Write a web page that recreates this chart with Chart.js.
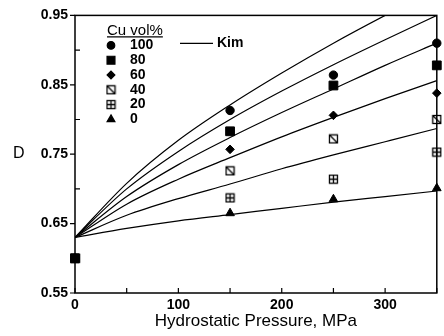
<!DOCTYPE html>
<html>
<head>
<meta charset="utf-8">
<script src="https://cdn.jsdelivr.net/npm/chart.js@4"></script>
<style>
html, body { margin: 0; padding: 0; background: #fff; }
#wrap { width: 444px; height: 336px; }
</style>
</head>
<body>
<div id="wrap"><canvas id="chart"></canvas></div>
<script>
// measured relative density D vs hydrostatic pressure
const pressures = [0, 150, 250, 350];
const cu100 = [0.600, 0.813, 0.864, 0.910];
const cu80  = [0.600, 0.783, 0.849, 0.878];
const cu60  = [0.600, 0.757, 0.806, 0.838];
const cu40  = [0.600, 0.726, 0.772, 0.800];
const cu20  = [0.600, 0.687, 0.714, 0.753];
const cu0   = [0.600, 0.665, 0.685, 0.701];

// Kim model curves
const kimPressures = [0, 50, 100, 150, 200, 250, 300, 350];
const kim1 = [0.630, 0.708, 0.770, 0.821, 0.867, 0.910, 0.950, 0.988];
const kim2 = [0.630, 0.700, 0.754, 0.800, 0.841, 0.879, 0.915, 0.950];
const kim3 = [0.630, 0.689, 0.735, 0.774, 0.810, 0.844, 0.878, 0.910];
const kim4 = [0.630, 0.678, 0.714, 0.745, 0.775, 0.803, 0.830, 0.856];
const kim5 = [0.630, 0.662, 0.686, 0.707, 0.729, 0.749, 0.768, 0.787];
const kim6 = [0.630, 0.643, 0.654, 0.663, 0.672, 0.681, 0.689, 0.697];

const legendLabels = ['100', '80', '60', '40', '20', '0'];
const xTickLabels = ['0', '100', '200', '300'];
const yTickLabels = ['0.55', '0.65', '0.75', '0.85', '0.95'];

const FONT = '"Liberation Sans", Arial, sans-serif';

// small open-square markers (slash / cross)
function makeMarker(kind) {
    const c = document.createElement('canvas');
    c.width = 11;
    c.height = 11;
    const g = c.getContext('2d');
    g.strokeStyle = '#000';
    g.lineWidth = 1.3;
    g.strokeRect(1.5, 1.5, 8, 8);
    g.beginPath();
    if (kind === 'slash') {
        g.moveTo(1.5, 1.5);
        g.lineTo(9.5, 9.5);
    } else {
        g.moveTo(5.5, 1.5);
        g.lineTo(5.5, 9.5);
        g.moveTo(1.5, 5.5);
        g.lineTo(9.5, 5.5);
    }
    g.stroke();
    return c;
}

function toPoints(xs, ys) {
    return xs.map((x, i) => ({ x: x, y: ys[i] }));
}

const markerStyles = [
    { style: 'circle', radius: 4.2 },
    { style: 'rect', radius: 6.2 },
    { style: 'rectRot', radius: 4.3 },
    { style: makeMarker('slash'), radius: 5 },
    { style: makeMarker('cross'), radius: 5 },
    { style: 'triangle', radius: 5 }
];
const measured = [cu100, cu80, cu60, cu40, cu20, cu0];
const kimCurves = [kim1, kim2, kim3, kim4, kim5, kim6];

const datasets = [];
kimCurves.forEach(k => {
    datasets.push({
        label: 'Kim',
        data: toPoints(kimPressures, k),
        showLine: true,
        borderColor: '#000',
        borderWidth: 1.2,
        pointRadius: 0,
        cubicInterpolationMode: 'monotone',
        clip: 0
    });
});
measured.forEach((m, i) => {
    datasets.push({
        label: legendLabels[i],
        data: toPoints(pressures, m),
        showLine: false,
        pointStyle: markerStyles[i].style,
        pointRadius: markerStyles[i].radius,
        backgroundColor: '#000',
        borderColor: '#000',
        borderWidth: 1,
        clip: false
    });
});

// frame, inward/outward ticks and the "D" label
const axisDecor = {
    id: 'axisDecor',
    beforeDatasetsDraw(chart) {
        const { ctx, chartArea: a, scales: { x, y } } = chart;
        ctx.save();
        ctx.strokeStyle = '#000';
        ctx.lineWidth = 1.5;
        ctx.strokeRect(a.left, a.top, a.right - a.left, a.bottom - a.top);
        ctx.lineWidth = 1.2;
        ctx.beginPath();
        x.ticks.forEach(t => {
            const px = x.getPixelForValue(t.value);
            ctx.moveTo(px, a.bottom);
            ctx.lineTo(px, a.bottom - 5);
        });
        y.ticks.forEach(t => {
            const py = y.getPixelForValue(t.value);
            if (yTickLabels.includes(t.value.toFixed(2))) {
                ctx.moveTo(a.left - 5, py);
                ctx.lineTo(a.left, py);
            } else {
                ctx.moveTo(a.left, py);
                ctx.lineTo(a.left + 5, py);
            }
        });
        ctx.stroke();
        ctx.fillStyle = '#000';
        ctx.font = '16px ' + FONT;
        ctx.textAlign = 'left';
        ctx.textBaseline = 'middle';
        ctx.fillText('D', 13, 154);
        ctx.restore();
    }
};

// legend block inside the plot
const legendBox = {
    id: 'legendBox',
    afterDraw(chart) {
        const { ctx, chartArea: a } = chart;
        ctx.save();
        ctx.fillStyle = '#000';
        ctx.strokeStyle = '#000';
        ctx.textBaseline = 'middle';
        ctx.textAlign = 'left';

        ctx.font = '15px ' + FONT;
        const title = 'Cu vol%';
        const tx = a.left + 32, ty = a.top + 15;
        ctx.fillText(title, tx, ty);
        ctx.lineWidth = 1.2;
        ctx.beginPath();
        ctx.moveTo(tx, ty + 6.5);
        ctx.lineTo(tx + ctx.measureText(title).width, ty + 6.5);
        ctx.stroke();

        ctx.font = 'bold 14px ' + FONT;
        legendLabels.forEach((lab, i) => {
            const ry = a.top + 30 + i * 14.8;
            const ms = markerStyles[i];
            if (Chart.helpers && Chart.helpers.drawPoint) {
                Chart.helpers.drawPoint(ctx, {
                    pointStyle: ms.style, radius: ms.radius * 0.9, rotation: 0, borderWidth: 1
                }, a.left + 36, ry);
            }
            ctx.fillText(lab, a.left + 55, ry);
        });

        ctx.lineWidth = 1.2;
        ctx.beginPath();
        ctx.moveTo(a.left + 105, a.top + 28);
        ctx.lineTo(a.left + 138, a.top + 28);
        ctx.stroke();
        ctx.font = 'bold 14px ' + FONT;
        ctx.fillText('Kim', a.left + 142, a.top + 28);
        ctx.restore();
    }
};

new Chart(document.getElementById('chart'), {
    type: 'scatter',
    data: { datasets: datasets },
    options: {
        responsive: true,
        maintainAspectRatio: false,
        animation: false,
        layout: { padding: { left: 40, right: 2, top: 14, bottom: 0 } },
        plugins: {
            legend: { display: false },
            tooltip: { enabled: false }
        },
        scales: {
            x: {
                type: 'linear',
                min: 0,
                max: 350,
                grid: { display: false, drawTicks: false },
                border: { display: false },
                ticks: {
                    stepSize: 50,
                    autoSkip: false,
                    maxRotation: 0,
                    padding: 4,
                    color: '#000',
                    font: { family: FONT, size: 14, weight: 'bold' },
                    callback: v => xTickLabels.includes(String(v)) ? String(v) : ''
                },
                title: {
                    display: true,
                    text: 'Hydrostatic Pressure, MPa',
                    color: '#000',
                    font: { family: FONT, size: 17 },
                    padding: { top: 0, bottom: 4 }
                },
                afterFit: s => { s.height = 43; }
            },
            y: {
                type: 'linear',
                min: 0.55,
                max: 0.95,
                grid: { display: false, drawTicks: false },
                border: { display: false },
                ticks: {
                    stepSize: 0.05,
                    autoSkip: false,
                    padding: 7,
                    color: '#000',
                    font: { family: FONT, size: 14, weight: 'bold' },
                    callback: v => yTickLabels.includes(v.toFixed(2)) ? v.toFixed(2) : ''
                },
                afterFit: s => { s.width = 35; }
            }
        }
    },
    plugins: [axisDecor, legendBox]
});
</script>
</body>
</html>
